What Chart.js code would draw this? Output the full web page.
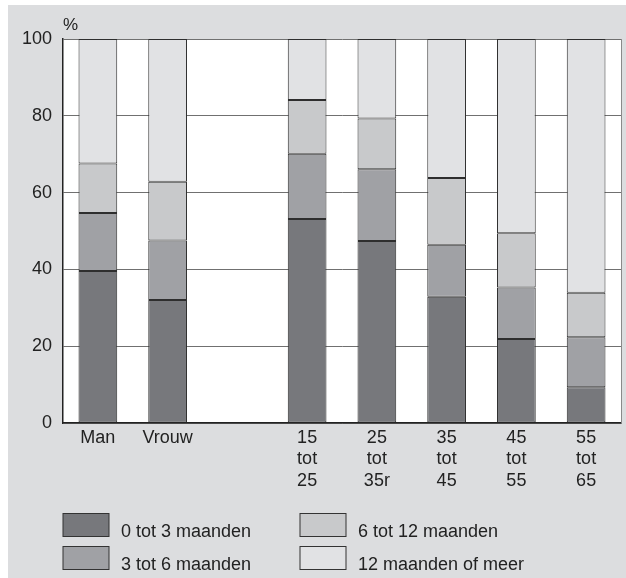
<!DOCTYPE html>
<html>
<head>
<meta charset="utf-8">
<script src="https://cdn.jsdelivr.net/npm/chart.js@4/dist/chart.umd.min.js"></script>
<style>
  html, body { margin: 0; padding: 0; background: #ffffff; }
  #wrap { position: absolute; left: 0; top: 0; width: 626px; height: 578px; }
</style>
</head>
<body>
<div id="wrap"><canvas id="c" width="626" height="578"></canvas></div>
<script>
const categories = [["Man"], ["Vrouw"], [""], ["15", "tot", "25"], ["25", "tot", "35r"], ["35", "tot", "45"], ["45", "tot", "55"], ["55", "tot", "65"]];
const seriesNames = ["0 tot 3 maanden", "3 tot 6 maanden", "6 tot 12 maanden", "12 maanden of meer"];
const s0to3 = [39.6, 32.0, null, 53.1, 47.4, 32.9, 21.9, 9.3];
const s3to6 = [15.1, 15.5, null, 17.0, 18.7, 13.5, 13.4, 13.0];
const s6to12 = [12.9, 15.3, null, 14.0, 13.2, 17.4, 14.1, 11.6];
const s12plus = [32.4, 37.2, null, 15.9, 20.7, 36.2, 50.6, 66.1];
const yTicks = [0, 20, 40, 60, 80, 100];

const colors = ["#77787c", "#a0a1a5", "#c8c9cb", "#e1e2e4"];
const FONT = "'Liberation Sans', Arial, Helvetica, sans-serif";

const bgPlugin = {
  id: 'bg',
  beforeDraw(chart) {
    const ctx = chart.ctx, a = chart.chartArea;
    ctx.save();
    ctx.fillStyle = '#dcdddf';
    ctx.fillRect(8, 5, 626 - 8, 578 - 5);
    ctx.fillStyle = '#ffffff';
    ctx.fillRect(a.left, a.top, a.right - a.left, a.bottom - a.top);
    ctx.restore();
  },
  afterDraw(chart) {
    const ctx = chart.ctx, a = chart.chartArea;
    ctx.save();
    // right border
    ctx.strokeStyle = '#8a8a8a';
    ctx.lineWidth = 1;
    ctx.beginPath();
    ctx.moveTo(a.right + 0.5, a.top);
    ctx.lineTo(a.right + 0.5, a.bottom);
    ctx.stroke();
    // % label
    ctx.fillStyle = '#222';
    ctx.font = "17px " + FONT;
    ctx.textBaseline = 'alphabetic';
    ctx.fillText('%', 63, 30);
    // legend
    const cols = [63, 300];
    const rows = [513.5, 546.5];
    ctx.font = "18px " + FONT;
    chart.data.datasets.forEach((ds, i) => {
      const x = cols[Math.floor(i / 2)];
      const y = rows[i % 2];
      ctx.fillStyle = ds.backgroundColor;
      ctx.fillRect(x, y, 46, 23);
      ctx.strokeStyle = '#333';
      ctx.lineWidth = 1;
      ctx.strokeRect(x, y, 46, 23);
      ctx.fillStyle = '#222';
      ctx.fillText(ds.label, x + 58, y + 23);
    });
    ctx.restore();
  }
};

const datasets = [s0to3, s3to6, s6to12, s12plus].map((d, i) => ({
  label: seriesNames[i],
  data: d,
  backgroundColor: colors[i],
  borderColor: '#2e2e2e',
  borderWidth: 1,
  borderSkipped: false,
  categoryPercentage: 1.0,
  barPercentage: 0.555
}));

new Chart(document.getElementById('c'), {
  type: 'bar',
  data: { labels: categories, datasets },
  plugins: [bgPlugin],
  options: {
    responsive: false,
    animation: false,
    devicePixelRatio: 1,
    layout: { padding: { left: 0, right: 5, top: 39, bottom: 0 } },
    plugins: { legend: { display: false }, tooltip: { enabled: false } },
    scales: {
      x: {
        stacked: true,
        grid: { display: false, drawTicks: false },
        border: { display: true, color: '#222', width: 1.5 },
        ticks: { color: '#222', font: { family: FONT, size: 18, lineHeight: 1.2 }, padding: 4, maxRotation: 0, autoSkip: false },
        afterFit(scale) { scale.height = 155; }
      },
      y: {
        stacked: true,
        min: 0, max: 100,
        afterBuildTicks(scale) { scale.ticks = yTicks.map(v => ({ value: v })); },
        grid: { color: '#707070', lineWidth: 1, drawTicks: false },
        border: { display: true, color: '#222', width: 1.5 },
        ticks: { color: '#222', font: { family: FONT, size: 18 }, padding: 11 },
        afterFit(scale) { scale.width = 63; }
      }
    }
  }
});
</script>
</body>
</html>
